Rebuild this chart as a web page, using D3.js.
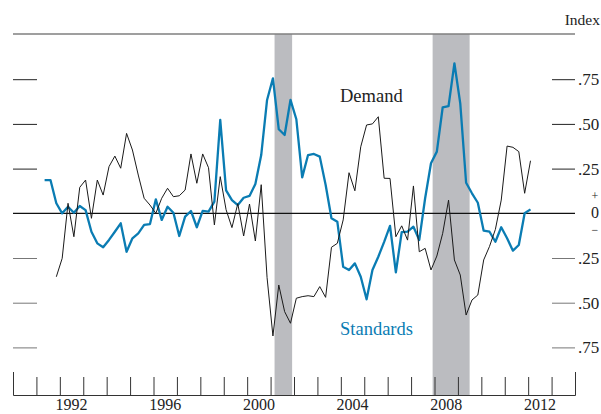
<!DOCTYPE html>
<html>
<head>
<meta charset="utf-8">
<script src="https://cdn.jsdelivr.net/npm/d3@7"></script>
<style>
  body { margin: 0; background: #fff; }
  svg { display: block; font-family: "Liberation Serif", "Times New Roman", serif; }
</style>
</head>
<body>
<script>
// quarterly index values
const demandStart = 1991.85;
const demand = [
  -0.355, -0.252, 0.056, -0.131, 0.145, 0.186, -0.028, 0.186, 0.102, 0.261,
  0.320, 0.252, 0.447, 0.354, 0.214, 0.084, 0.046, 0.0, 0.084, 0.14,
  0.093, 0.098, 0.13, 0.332, 0.168, 0.332, 0.255, -0.065, 0.205, 0.02,
  -0.08, 0.054, -0.127, 0.052, -0.155, 0.16, -0.36, -0.686, -0.401, -0.55,
  -0.615, -0.475, -0.466, -0.461, -0.466, -0.41, -0.47, -0.19, -0.168, -0.037,
  0.227, 0.126, 0.372, 0.494, 0.5, 0.54, 0.196, 0.195, -0.131, -0.07,
  -0.15, 0.153, -0.215, -0.196, -0.317, -0.239, -0.112, 0.074, -0.261, -0.345,
  -0.569, -0.485, -0.457, -0.261, -0.185, -0.09, 0.074, 0.376, 0.369, 0.345,
  0.112, 0.294
];

const standardsStart = 1991.35;
const standards = [
  0.186, 0.186, 0.056, 0.0, 0.037, 0.003, 0.041, 0.018, -0.103, -0.168,
  -0.19, -0.149, -0.103, -0.056, -0.215, -0.14, -0.112, -0.065, -0.06, 0.078,
  -0.037, 0.037, 0.003, -0.127, -0.019, 0.013, -0.078, 0.013, 0.009, 0.065,
  0.522, 0.128, 0.074, 0.046, 0.087, 0.097, 0.164, 0.326, 0.634, 0.755,
  0.47, 0.438, 0.634, 0.526, 0.201, 0.326, 0.332, 0.317, 0.16, -0.028,
  -0.047, -0.299, -0.317, -0.28, -0.355, -0.481, -0.317, -0.243, -0.16, -0.07,
  -0.33, -0.105, -0.103, -0.075, -0.149, 0.084, 0.28, 0.345, 0.593, 0.6,
  0.839, 0.615, 0.171, 0.112, 0.059, -0.097, -0.103, -0.159, -0.078, -0.14,
  -0.209, -0.177, 0.0, 0.022
];

const recessions = [[2001.17, 2001.92], [2007.92, 2009.5]];
const yearTicks = d3.range(1990, 2015);
const yearLabels = [1992, 1996, 2000, 2004, 2008, 2012];
const valueTicks = [-0.75, -0.5, -0.25, 0.25, 0.5, 0.75];

const w = 601;
const h = 414;
const topY = 34;
const axisY = 395;

const svg = d3.select('body').append('svg').attr('width', w).attr('height', h);

const x = d3.scaleLinear().domain([1990, 2014]).range([13, 575]);
const y = d3.scaleLinear().domain([-0.75, 0.75]).range([347.4, 79.2]);

// recession shading
svg.selectAll('rect.rec').data(recessions).enter().append('rect')
  .attr('class', 'rec')
  .attr('x', d => x(d[0]))
  .attr('width', d => x(d[1]) - x(d[0]))
  .attr('y', topY)
  .attr('height', axisY - topY)
  .attr('fill', '#bbbcc0');

// top rule
svg.append('line')
  .attr('x1', 13).attr('x2', 575).attr('y1', topY).attr('y2', topY)
  .attr('stroke', '#7f7f7f').attr('stroke-width', 1.5);

svg.append('text')
  .attr('x', 600).attr('y', 25)
  .attr('text-anchor', 'end')
  .style('font-size', '15.5px')
  .attr('fill', '#222')
  .text('Index');

// left ticks
const leftAxis = d3.axisRight(y).tickValues(valueTicks).tickSize(24).tickFormat('');
svg.append('g').attr('transform', 'translate(13,0)').call(leftAxis)
  .call(g => g.select('.domain').remove())
  .call(g => g.selectAll('.tick line').attr('stroke', d => d > 0 ? '#222' : '#777'));

// right ticks and labels
const rightAxis = d3.axisRight(y).tickValues(valueTicks).tickSize(23).tickPadding(3)
  .tickFormat(d => d3.format('.2f')(Math.abs(d)).replace('0.', '.'));
svg.append('g').attr('transform', 'translate(552,0)').call(rightAxis)
  .call(g => g.select('.domain').remove())
  .call(g => g.selectAll('.tick line').attr('stroke', d => d > 0 ? '#222' : '#777'))
  .call(g => g.selectAll('.tick text')
    .style('font-family', '"Liberation Serif", serif')
    .style('font-size', '17px')
    .attr('fill', '#222'));

// zero marker: + 0 −
const zl = svg.append('g').attr('text-anchor', 'middle').attr('fill', '#222')
  .style('font-family', '"Liberation Serif", serif');
zl.append('text').attr('x', 595).attr('y', y(0) - 13).style('font-size', '12px').text('+');
zl.append('text').attr('x', 595).attr('y', y(0) + 5).style('font-size', '16px').text('0');
zl.append('text').attr('x', 595).attr('y', y(0) + 21).style('font-size', '12px').text('\u2212');

// zero line
svg.append('line')
  .attr('x1', 13).attr('x2', 575).attr('y1', y(0)).attr('y2', y(0))
  .attr('stroke', '#111').attr('stroke-width', 1.2);

// bottom axis
const bottomAxis = d3.axisTop(x).tickValues(yearTicks).tickSize(18).tickFormat('');
svg.append('g').attr('transform', 'translate(0,' + axisY + ')').call(bottomAxis)
  .call(g => g.select('.domain').attr('stroke', '#333'))
  .call(g => g.selectAll('.tick line').attr('stroke', '#333')
    .attr('y2', d => (d === 1990 || d === 2014) ? -23 : -18));

svg.selectAll('text.year').data(yearLabels).enter().append('text')
  .attr('class', 'year')
  .attr('x', d => x(d + 0.5))
  .attr('y', 410)
  .attr('text-anchor', 'middle')
  .style('font-size', '16px')
  .attr('fill', '#222')
  .text(d => d);

// series
const lineOf = start => d3.line()
  .x((d, i) => x(start + i * 0.25))
  .y(d => y(d));

svg.append('path').datum(standards)
  .attr('d', lineOf(standardsStart))
  .attr('fill', 'none').attr('stroke', '#0a7cb3').attr('stroke-width', 2.3)
  .attr('stroke-linejoin', 'round');

svg.append('path').datum(demand)
  .attr('d', lineOf(demandStart))
  .attr('fill', 'none').attr('stroke', '#1a1a1a').attr('stroke-width', 1)
  .attr('stroke-linejoin', 'round');

svg.append('text')
  .attr('x', 340).attr('y', 102)
  .style('font-size', '18.5px')
  .attr('fill', '#222')
  .text('Demand');

svg.append('text')
  .attr('x', 340).attr('y', 335)
  .style('font-size', '18.5px')
  .attr('fill', '#0a7cb3')
  .text('Standards');
</script>
</body>
</html>
